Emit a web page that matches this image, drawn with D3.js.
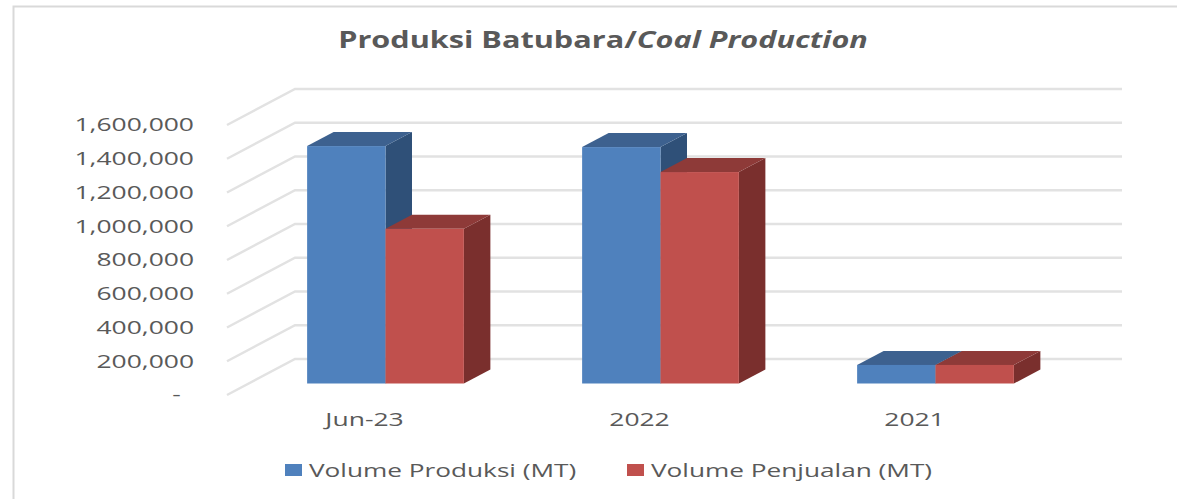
<!DOCTYPE html>
<html>
<head>
    <meta charset="utf-8"/>
    <title>Produksi Batubara</title>
    <script src="https://d3js.org/d3.v7.min.js"></script>
    <style>
        body { margin: 0; background: #fff; }
        text { font-family: "Open Sans", sans-serif; fill: #595959; }
        .tick line, .domain { display: none; }
    </style>
</head>
<body>
<svg width="1177" height="499"></svg>

<script type="text/javascript">

    //datos
    const categorias = ["Jun-23", "2022", "2021"];
    const produksi = [1407000, 1401000, 110000];
    const penjualan = [917000, 1253000, 110000];
    const ticks = [0, 200000, 400000, 600000, 800000, 1000000, 1200000, 1400000, 1600000];
    const nombres = ["Volume Produksi (MT)", "Volume Penjualan (MT)"];

    //colores: frente, tapa, lado
    const azul = ["#4f81bd", "#3d618f", "#2f5078"];
    const rojo = ["#c0504d", "#8e3a38", "#7a2f2d"];

    const svg = d3.select("svg");

    //el texto de la imagen original esta estirado a lo ancho
    const estiramiento = 1.47;

    //marco
    svg.append("path")
        .attr("d", "M13.5,499V6.5H1177")
        .attr("fill", "none")
        .attr("stroke", "#d9d9d9")
        .attr("stroke-width", 2);

    //escalas sobre el plano frontal del piso
    const escalaX = d3.scaleBand().domain(categorias).range([227, 1052]).paddingInner(0.43).paddingOuter(0.215);
    const escalaY = d3.scaleLinear().domain([0, 1600000]).range([395, 125]);
    const barra = d3.scaleBand().domain([0, 1]).range([0, escalaX.bandwidth()]);

    //profundidad del piso y de las barras
    const fondoX = 68, fondoY = 36;
    const barraX = 26.5, barraY = 14;
    const offsetX = 21, offsetY = 11.5;

    //lineas de grilla (pared izquierda y fondo)
    svg.append("g").selectAll("path")
        .data(ticks)
        .enter()
        .append("path")
        .attr("d", d => {
            const y = escalaY(d);
            return "M227," + y + "L" + (227 + fondoX) + "," + (y - fondoY) + "H1122";
        })
        .attr("fill", "none")
        .attr("stroke", "#e2e2e2")
        .attr("stroke-width", 2.5);

    //dibuja una barra 3d
    function barra3d(cat, valor, i, colores) {
        const x0 = escalaX(cat) + barra(i) + offsetX;
        const x1 = x0 + barra.bandwidth();
        const y0 = escalaY(0) - offsetY;
        const y1 = escalaY(valor) - offsetY;
        const g = svg.append("g");
        //lado
        g.append("path")
            .attr("d", "M" + x1 + "," + y1 + "L" + (x1 + barraX) + "," + (y1 - barraY)
                + "V" + (y0 - barraY) + "L" + x1 + "," + y0 + "Z")
            .attr("fill", colores[2]);
        //tapa
        g.append("path")
            .attr("d", "M" + x0 + "," + y1 + "L" + (x0 + barraX) + "," + (y1 - barraY)
                + "H" + (x1 + barraX) + "L" + x1 + "," + y1 + "Z")
            .attr("fill", colores[1]);
        //frente
        g.append("rect")
            .attr("x", x0)
            .attr("y", y1)
            .attr("width", x1 - x0)
            .attr("height", y0 - y1)
            .attr("fill", colores[0]);
    }

    categorias.forEach((c, i) => {
        barra3d(c, produksi[i], 0, azul);
        barra3d(c, penjualan[i], 1, rojo);
    });

    //eje y, el guion del cero queda corrido a la izquierda
    const ejeY = d3.axisLeft(escalaY)
        .tickValues(ticks)
        .tickFormat(d => d === 0 ? "-" : d3.format(",")(d));

    svg.append("g")
        .attr("transform", "translate(194,0)")
        .style("font-size", "18px")
        .call(ejeY)
        .selectAll("text")
        .attr("x", d => d === 0 ? -9 : 0)
        .attr("dy", "0.32em")
        .attr("text-anchor", "end")
        .attr("transform", "scale(" + estiramiento + ",1)");

    //eje x
    const ejeX = d3.axisBottom(escalaX);

    svg.append("g")
        .attr("transform", "translate(0,395)")
        .style("font-size", "18px")
        .call(ejeX)
        .selectAll("text")
        .attr("y", 0)
        .attr("dy", "31px")
        .attr("text-anchor", "middle")
        .attr("transform", "scale(" + estiramiento + ",1)")
        .attr("x", 0);

    //titulo
    const titulo = svg.append("text")
        .attr("text-anchor", "middle")
        .attr("transform", "translate(603,48) scale(1.277,1)")
        .style("font-size", "24px")
        .style("font-weight", "bold");
    titulo.append("tspan").text("Produksi Batubara/");
    titulo.append("tspan").style("font-style", "italic").text("Coal Production");

    //leyenda
    const leyenda = svg.append("g").selectAll("g")
        .data(nombres)
        .enter()
        .append("g")
        .attr("transform", (d, i) => "translate(" + [285, 627][i] + ",464)");

    leyenda.append("rect")
        .attr("width", 17)
        .attr("height", 12)
        .attr("fill", (d, i) => [azul[0], rojo[0]][i]);

    leyenda.append("text")
        .attr("transform", "translate(24,13) scale(1.456,1)")
        .style("font-size", "18px")
        .text(d => d);

</script>
</body>
</html>
